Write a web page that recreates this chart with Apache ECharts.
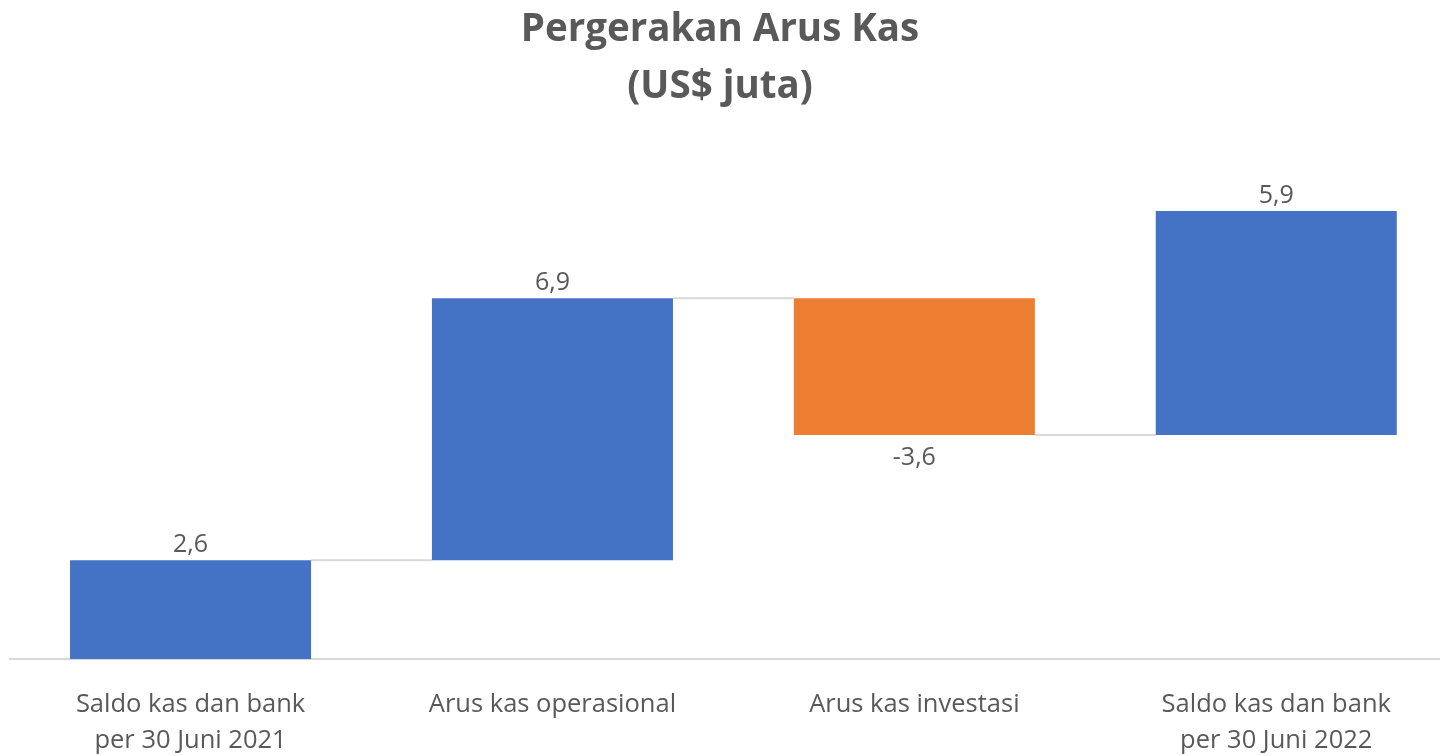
<!DOCTYPE html>
<html>
<head>
<meta charset="utf-8">
<script src="https://cdn.jsdelivr.net/npm/echarts@6/dist/echarts.min.js"></script>
<style>html,body{margin:0;padding:0;background:#fff}#c{width:1440px;height:756px}</style>
</head>
<body>
<div id="c"></div>
<script>
const categories = ['Saldo kas dan bank\nper 30 Juni 2021', 'Arus kas operasional', 'Arus kas investasi', 'Saldo kas dan bank\nper 30 Juni 2022'];
const values = [2.6, 6.9, -3.6, 5.9];
const titleLines = ['Pergerakan Arus Kas', '(US$ juta)'];

// waterfall: each bar floats from the running total
const bases = [], heights = [], levels = [];
let run = 0;
values.forEach(v => {
  if (v >= 0) { bases.push(run); heights.push(v); }
  else { bases.push(run + v); heights.push(-v); }
  run += v;
  levels.push(run);
});
const FONT = 'Open Sans';
const TXT = '#595959';
const BAR_FRAC = 0.666;

const chart = echarts.init(document.getElementById('c'), null, {renderer: 'canvas'});
chart.setOption({
  animation: false,
  title: {
    text: titleLines.join('\n'),
    left: 'center',
    top: -3,
    textStyle: {fontFamily: FONT, fontWeight: 'bold', fontSize: 38.5, color: TXT, lineHeight: 57}
  },
  grid: {left: 9.6, width: 1447.6, top: 127.4, bottom: 97, containLabel: false, outerBoundsMode: 'none'},
  xAxis: {
    type: 'category',
    data: categories,
    axisLine: {lineStyle: {color: '#d9d9d9', width: 2}},
    axisTick: {show: false},
    axisLabel: {fontFamily: FONT, fontSize: 25.5, color: TXT, lineHeight: 36, margin: 28}
  },
  yAxis: {type: 'value', min: 0, max: 14, show: false, splitLine: {show: false}},
  series: [
    {
      type: 'bar', stack: 'w', barCategoryGap: '33.4%',
      itemStyle: {color: 'transparent'},
      data: bases, silent: true
    },
    {
      type: 'bar', stack: 'w', barCategoryGap: '33.4%',
      data: heights.map((h, i) => ({
        value: h,
        itemStyle: {color: values[i] < 0 ? '#ED7D31' : '#4472C4'},
        label: {
          show: true,
          position: values[i] < 0 ? 'bottom' : 'top',
          distance: values[i] < 0 ? 10 : 3,
          formatter: () => String(values[i]).replace('.', ','),
          fontFamily: FONT, fontSize: 25, color: TXT
        }
      }))
    },
    {
      type: 'custom',
      data: levels.slice(0, -1).map((l, i) => [i, l]),
      z: 1,
      renderItem: function (params, api) {
        const i = api.value(0), l = api.value(1);
        const p1 = api.coord([i, l]);
        const p2 = api.coord([i + 1, l]);
        const bw = api.size([1, 0])[0] * BAR_FRAC / 2;
        return {
          type: 'line',
          shape: {x1: p1[0] + bw, y1: p1[1], x2: p2[0] - bw, y2: p2[1]},
          style: {stroke: '#d9d9d9', lineWidth: 2}
        };
      }
    }
  ]
});
</script>
</body>
</html>
